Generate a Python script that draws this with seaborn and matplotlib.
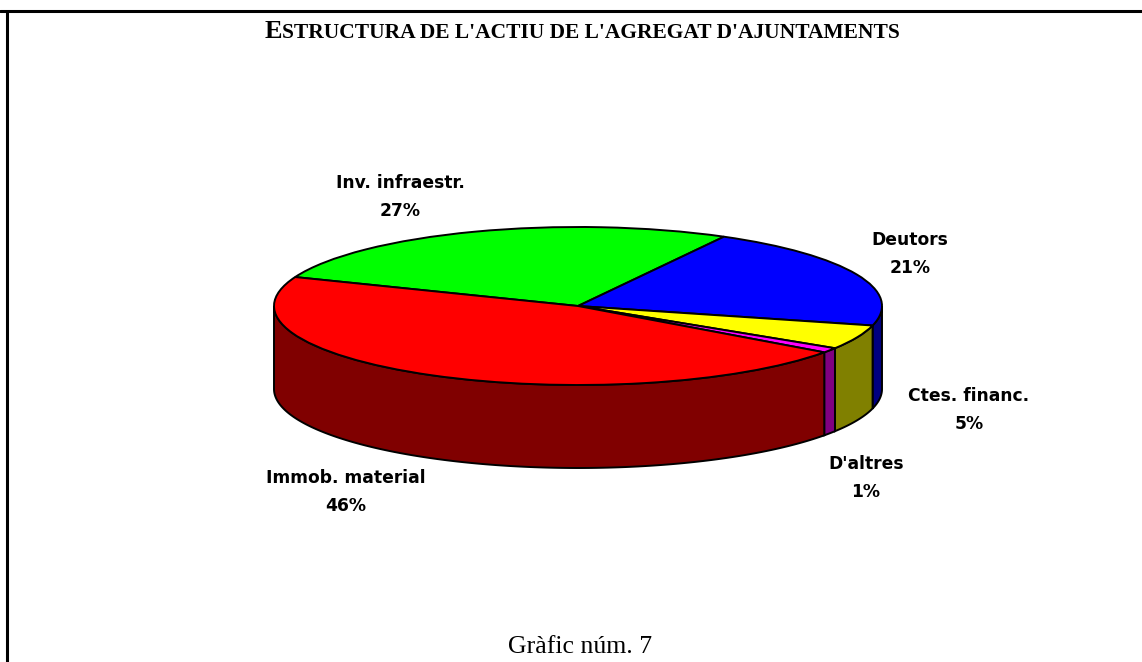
import numpy as np
import matplotlib
matplotlib.use("Agg")
import matplotlib.pyplot as plt
from matplotlib.lines import Line2D
from matplotlib.offsetbox import TextArea, HPacker, AnnotationBbox
import seaborn as sns

sns.set_style("white")
plt.rcParams['font.family'] = ['DejaVu Sans']
plt.rcParams['text.color'] = 'black'

# ---- data ----
categories = ["Inv. infraestr.", "Deutors", "Ctes. financ.", "D'altres", "Immob. material"]
values = [27, 21, 5, 1, 46]
top_colors = ["#00FF00", "#0000FF", "#FFFF00", "#FF00FF", "#FF0000"]
side_colors = ["#008000", "#000080", "#808000", "#800080", "#800000"]
title_first = "E"
title_rest = "STRUCTURA DE L'ACTIU DE L'AGREGAT D'AJUNTAMENTS"
footer = "Gràfic núm. 7"

W, H = 1142, 662
fig = plt.figure(figsize=(W / 100, H / 100), dpi=100)
fig.patch.set_facecolor("white")

# pie geometry (pixels)
cx, cy, a, b, depth = 578, 306, 304, 79, 83

ax = fig.add_axes([0, 0, 1, 1])
wedges, _ = ax.pie(values, colors=top_colors, startangle=158.5, counterclock=False,
                   radius=1, center=(0, 0),
                   wedgeprops=dict(edgecolor="black", linewidth=1.4, zorder=2))
ax.set_aspect("auto")
ax.set_position([0, 0, 1, 1])
ax.set_xlim(-cx / a, (W - cx) / a)
ax.set_ylim((cy - H) / b, cy / b)
ax.axis("off")

d = depth / b
for w, sc in zip(wedges, side_colors):
    t1, t2 = w.theta1, w.theta2
    for k in (-1, 0, 1):
        lo = max(t1 + 360 * k, 180)
        hi = min(t2 + 360 * k, 360)
        if hi > lo:
            t = np.radians(np.linspace(lo, hi, 200))
            xs = np.concatenate([np.cos(t), np.cos(t[::-1])])
            ys = np.concatenate([np.sin(t), np.sin(t[::-1]) - d])
            ax.fill(xs, ys, facecolor=sc, edgecolor="black", linewidth=1.4, zorder=1)

# labels
label_pos = [(400, 197), (910, 254), (969, 410), (866, 478), (346, 492)]
for cat, v, (px, py) in zip(categories, values, label_pos):
    fig.text(px / W, 1 - py / H, f"{cat}\n{v}%", ha="center", va="center",
             multialignment="center", fontsize=12.3, fontweight="bold",
             linespacing=1.78, color="black", family="DejaVu Sans")

# title in small caps style
t1 = TextArea(title_first, textprops=dict(family="Liberation Serif", fontweight="bold",
                                          fontsize=19, color="black"))
t2 = TextArea(title_rest, textprops=dict(family="Liberation Serif", fontweight="bold",
                                         fontsize=15.5, color="black"))
box = HPacker(children=[t1, t2], align="baseline", pad=0, sep=0)
ab = AnnotationBbox(box, (582 / W, 1 - 31 / H), xycoords="figure fraction",
                    frameon=False, box_alignment=(0.5, 0.5))
fig.add_artist(ab)

fig.text(580 / W, 1 - 647 / H, footer, ha="center", va="center",
         family="Liberation Serif", fontsize=18.5, color="black")

# frame lines
fig.add_artist(Line2D([0, 1], [1 - 10.5 / H, 1 - 10.5 / H], color="black", linewidth=2.2,
                      transform=fig.transFigure))
fig.add_artist(Line2D([6.5 / W, 6.5 / W], [0, 1 - 10.5 / H], color="black", linewidth=2.2,
                      transform=fig.transFigure))

fig.savefig("out.png", dpi=100, facecolor="white")
